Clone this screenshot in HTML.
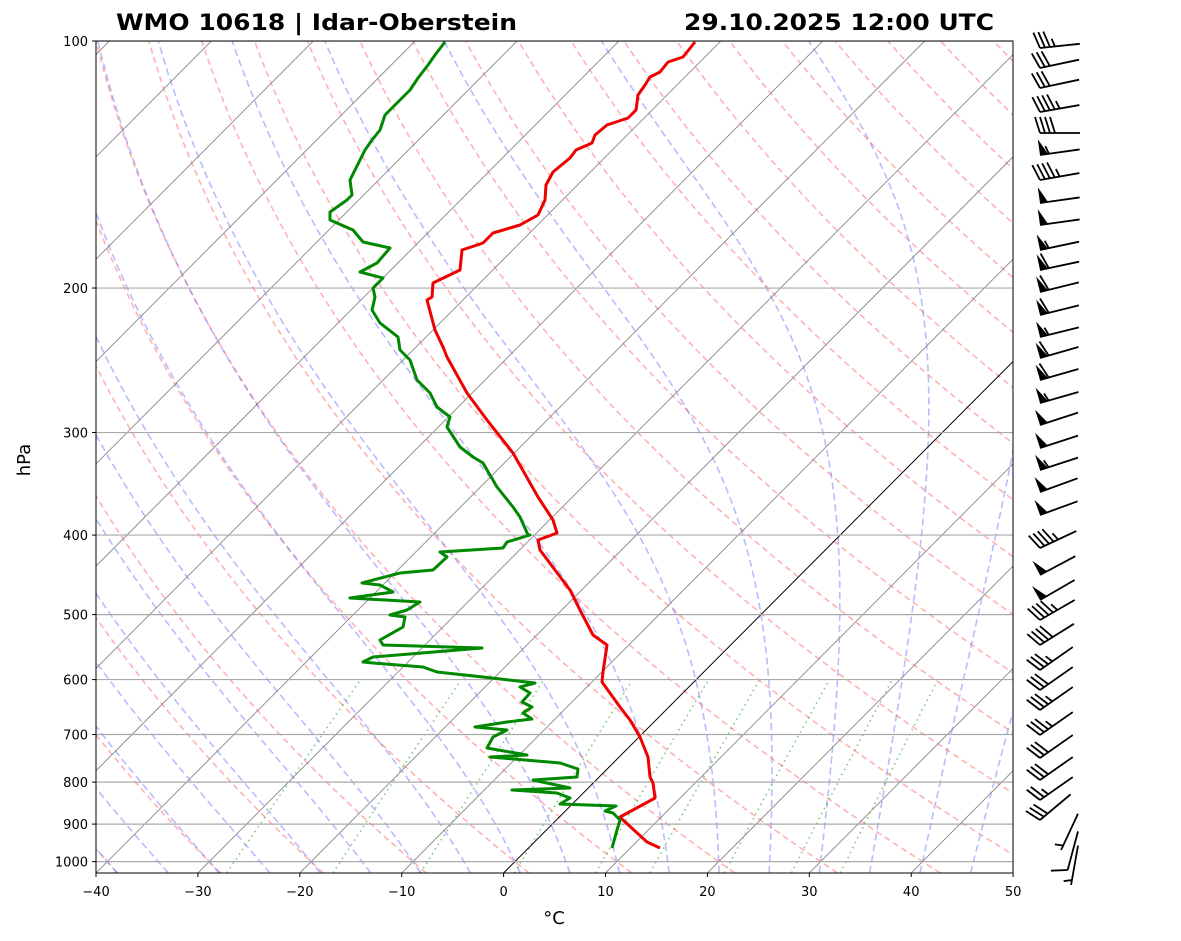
<!DOCTYPE html>
<html><head><meta charset="utf-8">
<style>html,body{margin:0;padding:0;background:#fff;}svg{display:block;font-family:"DejaVu Sans","Liberation Sans",sans-serif;}</style>
</head><body>
<svg id="s" width="1181" height="941" xmlns="http://www.w3.org/2000/svg">
<defs><clipPath id="c"><rect x="96" y="41" width="917" height="832"/></clipPath></defs>
<rect width="1181" height="941" fill="#fff"/>
<g id="bg" clip-path="url(#c)"></g>
<g id="data" clip-path="url(#c)" fill="none" stroke-width="3" stroke-linejoin="round">
<polyline stroke="#e00" points="660,848 647,842 623,820 620,817 633,810 655,798 653,783 650,777 648,757 640,737 630,720 620,707 602,682 603,672 607,645 593,635 580,610 570,590 540,550 538,540 557,533 553,520 538,497 513,453 487,420 467,393 447,357 443,347 435,330 427,300 432,297 433,283 460,270 462,250 483,243 493,233 520,225 538,215 545,200 546,185 553,172 570,158 576,150 592,143 595,135 607,125 628,118 636,110 638,95 645,85 650,77 660,72 668,62 683,57 695,42"/>
<polyline stroke="#080" points="612,848 617,830 620,820 613,813 605,811 616,806 560,804 570,798 557,793 512,790 570,788 533,780 577,777 578,769 560,763 490,757 527,755 487,748 493,737 507,730 475,727 507,722 532,719 523,713 532,707 522,702 530,693 520,687 535,683 483,677 437,672 423,667 373,663 363,662 373,657 482,648 383,645 380,640 403,627 405,617 390,615 407,610 420,602 350,598 393,592 380,585 362,583 400,573 433,570 447,557 440,552 503,548 507,542 530,535 528,535 520,517 513,507 497,487 483,463 473,457 460,447 447,427 450,417 437,407 430,393 417,380 410,360 400,350 398,337 380,323 372,310 375,297 373,288 383,278 360,272 377,263 390,248 363,242 353,230 330,220 330,212 347,200 352,195 350,180 355,170 365,150 372,140 380,130 385,115 400,100 410,90 418,78 428,65 435,55 445,42"/>
</g>
<rect x="96" y="41" width="917" height="832" fill="none" stroke="#000" stroke-width="1"/>
<g id="ax" font-size="13" fill="#000"></g>
<text x="116" y="30" font-size="22" font-weight="bold" textLength="401" lengthAdjust="spacingAndGlyphs">WMO 10618 | Idar-Oberstein</text>
<text x="684" y="30" font-size="22" font-weight="bold" textLength="310" lengthAdjust="spacingAndGlyphs">29.10.2025 12:00 UTC</text>
<text x="554" y="924" font-size="18" text-anchor="middle">°C</text>
<text transform="translate(30,460) rotate(-90)" font-size="18" text-anchor="middle">hPa</text>
<g id="barbs"></g>
</svg>
<script>
var NS="http://www.w3.org/2000/svg";
function Y(p){return 41+356.4*Math.log(p/100);}
function X(T,p){return 96+(T+40)*10.19+(873-Y(p))*0.996;}
var bg=document.getElementById('bg'),ax=document.getElementById('ax');
function el(par,tag,a){var e=document.createElementNS(NS,tag);for(var k in a)e.setAttribute(k,a[k]);par.appendChild(e);return e;}
function line(pts,a){a.points=pts.map(function(q){return q[0].toFixed(1)+','+q[1].toFixed(1)}).join(' ');a.fill='none';el(bg,'polyline',a);}
var pB=1032,ps=[];for(var p=pB;p>=99;p-=4)ps.push(p);
for(var t0=-40;t0<=200;t0+=10){var th=t0+273.15;line(ps.map(function(p){return [X(th*Math.pow(p/1000,0.2857)-273.15,p),Y(p)]}),{stroke:'#f66','stroke-opacity':0.5,'stroke-width':1.6,'stroke-dasharray':'6,4'});}
function es(T){return 6.112*Math.exp(17.67*T/(T+243.5));}
function dTdp(T,p){var Tk=T+273.15,e=es(T),rs=0.622*e/(p-e),Rd=287,Lv=2.501e6,Cp=1005;return (Rd*Tk+Lv*rs)/(Cp+Lv*Lv*rs*0.622/(Rd*Tk*Tk))/p;}
for(var t0=-40;t0<=45;t0+=5){var pts=[],T=t0;for(var p=1000;p>=100;p-=2){pts.push([X(T,p),Y(p)]);T-=2*dTdp(T,p);}
 var T2=t0,dn=[];for(var p=1000;p<=pB;p+=2){dn.push([X(T2,p),Y(p)]);T2+=2*dTdp(T2,p);}
 line(dn.reverse().concat(pts),{stroke:'#66f','stroke-opacity':0.45,'stroke-width':1.6,'stroke-dasharray':'7,4'});}
[0.0004,0.001,0.002,0.004,0.007,0.01,0.016,0.024,0.032].forEach(function(w){var pts=[];for(var p=pB;p>=600;p-=5){var e=w*p/(0.622+w),l=Math.log(e/6.112),Td=243.5*l/(17.67-l);pts.push([X(Td,p),Y(p)]);}
 line(pts,{stroke:'#2a2','stroke-opacity':0.6,'stroke-width':1.6,'stroke-dasharray':'1.5,4'});});
for(var T=-130;T<=50;T+=10){el(bg,'line',{x1:X(T,pB),y1:Y(pB),x2:X(T,90),y2:Y(90),stroke:T==0?'#000':'#888','stroke-width':T==0?1:0.9});}
for(var p=100;p<=1000;p+=100){var y=Y(p);el(bg,'line',{x1:96,x2:1013,y1:y,y2:y,stroke:'#aaa','stroke-width':1.2});
 el(ax,'line',{x1:92,x2:96,y1:y,y2:y,stroke:'#000'});var t=el(ax,'text',{x:88,y:y+5,'text-anchor':'end'});t.textContent=p;}
for(var T=-40;T<=50;T+=10){var x=96+(T+40)*10.19;el(ax,'line',{x1:x,x2:x,y1:873,y2:877,stroke:'#000'});var t=el(ax,'text',{x:x,y:896,'text-anchor':'middle'});t.textContent=(T<0?'\u2212'+(-T):T);}
var B=[[48,0,3,1,6],[68,0,3,0,12],[88,0,3,0,12],[112,0,4,1,10],[133,0,4,0,0],[155,1,0,1,8],[180,0,4,1,10],[203,1,0,0,8],[225,1,0,0,8],[250,1,0,1,12],[270,1,1,0,12],[292,1,1,0,14],[315,1,1,0,14],[337,1,0,1,14],[358,1,1,0,16],[380,1,1,0,16],[403,1,0,1,16],[425,1,0,0,18],[448,1,0,0,18],[470,1,0,1,18],[492,1,0,0,20],[515,1,0,0,20],[548,0,4,1,25],[575,1,0,0,28],[600,1,0,0,30],[620,0,4,1,30],[645,0,4,0,32],[670,0,3,1,35],[690,0,3,0,35],[710,0,3,1,35],[735,0,3,1,35],[758,0,3,0,35],[780,0,3,0,35],[800,0,2,1,35],[820,0,3,0,40],[850,0,0,1,65],[870,0,1,0,75],[885,0,0,1,80]];
var bg2=document.getElementById('barbs');
B.forEach(function(b){var y=b[0],a=b[4]*Math.PI/180,L=40,ux=Math.cos(a),uy=-Math.sin(a);var ex=1040,ey=y;
 if(b[4]>60){ex=1078-L*ux;}
 var sx=ex+L*ux,sy=ey+L*uy;var nx=uy,ny=-ux;
 if(ny>0){nx=-nx;ny=-ny;}
 el(bg2,'line',{x1:ex,y1:ey,x2:sx,y2:sy,stroke:'#000','stroke-width':1.8});
 var s=0,H=16;
 for(var i=0;i<b[1];i++){el(bg2,'polygon',{points:[ex+ux*s,ey+uy*s,ex+ux*(s+8),ey+uy*(s+8),ex+ux*s+nx*H,ey+uy*s+ny*H].join(','),fill:'#000'});s+=9;}
 for(var i=0;i<b[2];i++){el(bg2,'line',{x1:ex+ux*s,y1:ey+uy*s,x2:ex+ux*(s-5)+nx*H,y2:ey+uy*(s-5)+ny*H,stroke:'#000','stroke-width':1.8});s+=5;}
 if(b[1]+b[2]==0)s+=5;
 for(var i=0;i<b[3];i++){el(bg2,'line',{x1:ex+ux*s,y1:ey+uy*s,x2:ex+ux*(s-2.5)+nx*H/2,y2:ey+uy*(s-2.5)+ny*H/2,stroke:'#000','stroke-width':1.8});}
});
</script>
</body></html>
